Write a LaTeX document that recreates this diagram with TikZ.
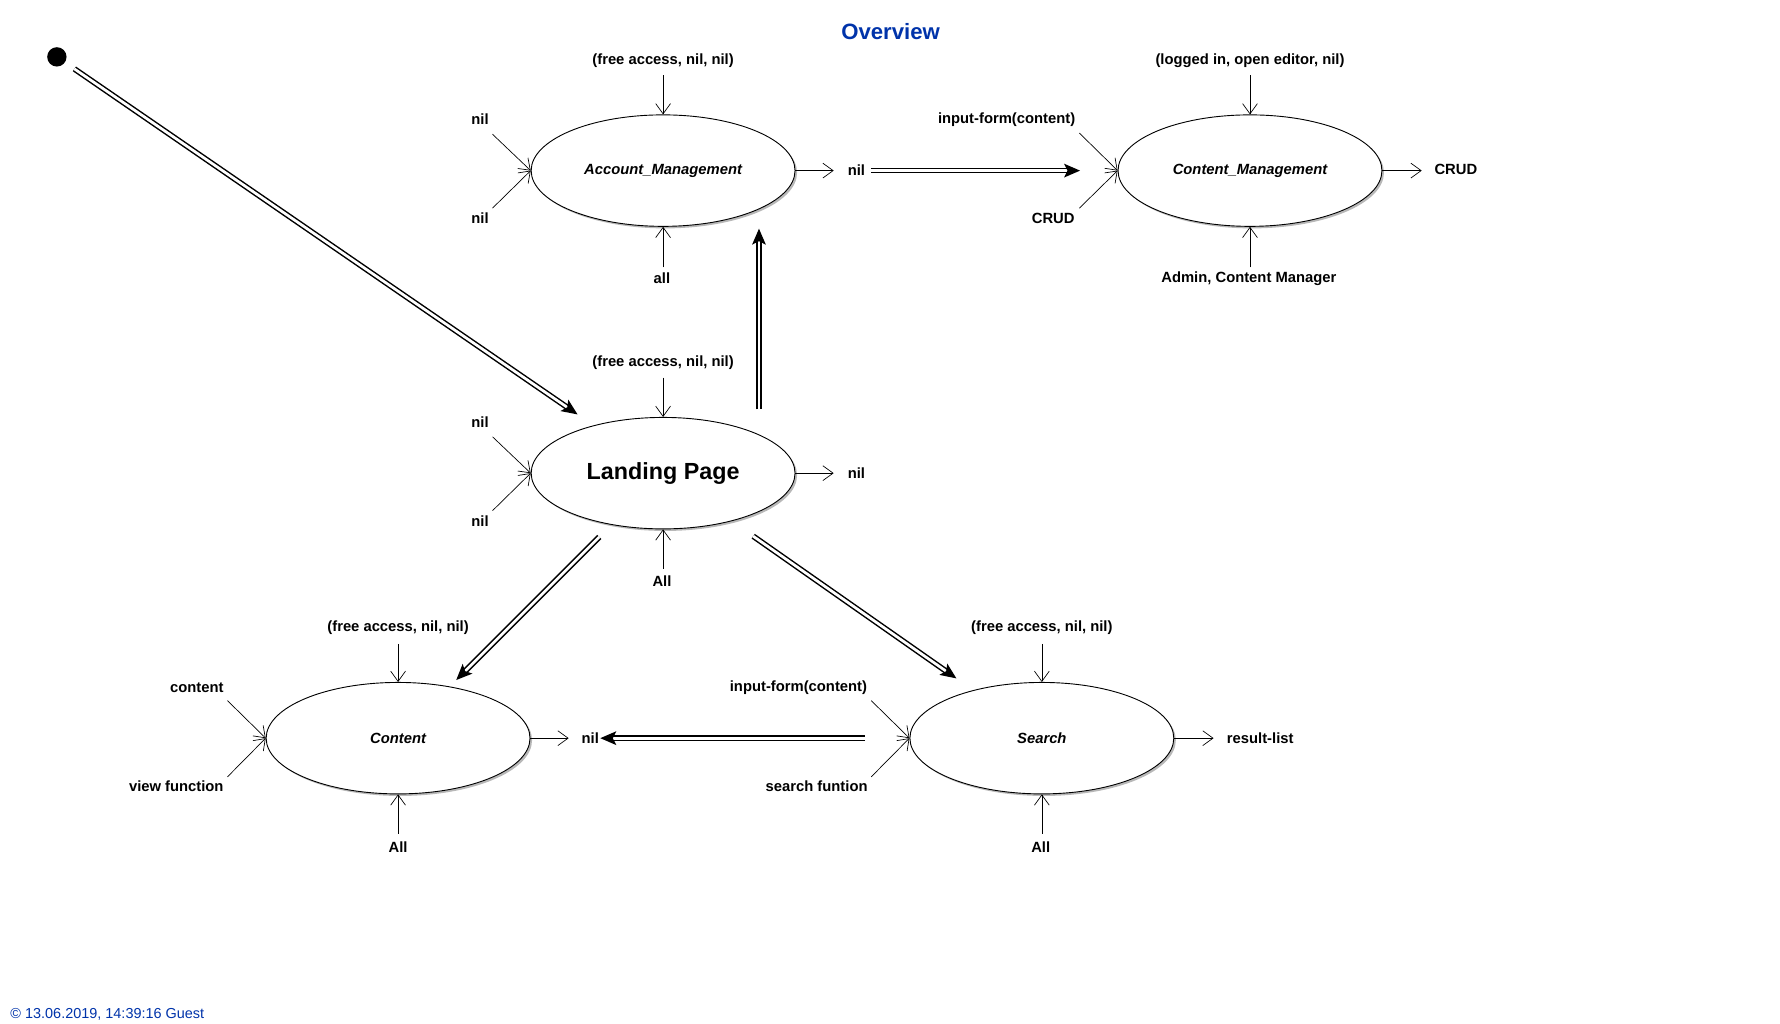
\documentclass[tikz,border=0pt]{standalone}
\usepackage{fontspec}
\setmainfont{Liberation Sans}
\usetikzlibrary{shapes.geometric,arrows.meta,shadows}
\definecolor{titleblue}{RGB}{0,51,170}
\begin{document}
\begin{tikzpicture}[x=1pt,y=-1pt,
  statebox/.style={ellipse,draw,line width=0.8pt,fill=white,minimum width=232pt,minimum height=98pt,inner sep=0pt,
    drop shadow={shadow xshift=1.8pt,shadow yshift=-1.8pt,opacity=0.28,fill=black}},
  lbl/.style={font=\fontsize{13}{15}\selectfont\bfseries,inner sep=1pt},
  stname/.style={font=\fontsize{13}{15}\selectfont\bfseries\itshape},
  stub/.style={line width=0.6pt,-{Straight Barb[length=9pt,width=13pt]}},
  trans/.style={double,double distance=2.4pt,line width=1.3pt,-{Stealth[length=14pt,width=12pt,inset=3pt]}},
]
\useasboundingbox (0,0) rectangle (1565,900);

% title and footer
\node[font=\fontsize{19.5}{22}\selectfont\bfseries,text=titleblue] (title) at (783,28) {Overview};
\node[font=\fontsize{12.7}{14}\selectfont,text=titleblue,anchor=west,inner sep=0pt] (footer) at (9,892) {© 13.06.2019, 14:39:16 Guest};

% initial state
\node[circle,fill=black,minimum size=17pt,inner sep=0pt] (init) at (50,50) {};

% states
\node[statebox] (acc) at (583,150) {};
\node[stname] at (acc) {Account\_Management};
\node[statebox] (cm) at (1099,150) {};
\node[stname] at (cm) {Content\_Management};
\node[statebox] (lp) at (583,416) {};
\node[font=\fontsize{20.5}{24}\selectfont\bfseries] at (lp) {Landing Page};
\node[statebox] (ct) at (350,649) {};
\node[stname] at (ct) {Content};
\node[statebox] (se) at (916,649) {};
\node[stname] at (se) {Search};

% ---------- Account_Management stubs
\node[lbl] (accTl) at (583,53) {(free access, nil, nil)};
\coordinate (accT) at (583,66);
\draw[stub] (accT) -- (acc.north);
\node[lbl] (accL1l) at (422,105) {nil};
\coordinate (accL1) at (433,118);
\draw[stub] (accL1) -- (acc.west);
\node[lbl] (accL2l) at (422,192) {nil};
\coordinate (accL2) at (433,183);
\draw[stub] (accL2) -- (acc.west);
\node[lbl] (accBl) at (582,245) {all};
\coordinate (accB) at (583,235);
\draw[stub] (accB) -- (acc.south);
\coordinate (accR) at (733,150);
\draw[stub] (acc.east) -- (accR);
\node[lbl] (accRl) at (753,150) {nil};

% ---------- Content_Management stubs
\node[lbl] (cmTl) at (1099,53) {(logged in, open editor, nil)};
\coordinate (cmT) at (1099,66);
\draw[stub] (cmT) -- (cm.north);
\node[lbl] (cmL1l) at (885,105) {input-form(content)};
\coordinate (cmL1) at (949,117);
\draw[stub] (cmL1) -- (cm.west);
\node[lbl] (cmL2l) at (926,192) {CRUD};
\coordinate (cmL2) at (949,183);
\draw[stub] (cmL2) -- (cm.west);
\node[lbl] (cmBl) at (1098,245) {Admin, Content Manager};
\coordinate (cmB) at (1099,235);
\draw[stub] (cmB) -- (cm.south);
\coordinate (cmR) at (1250,150);
\draw[stub] (cm.east) -- (cmR);
\node[lbl] (cmRl) at (1280,149) {CRUD};

% ---------- Landing Page stubs
\node[lbl] (lpTl) at (583,319) {(free access, nil, nil)};
\coordinate (lpT) at (583,332);
\draw[stub] (lpT) -- (lp.north);
\node[lbl] (lpL1l) at (422,371) {nil};
\coordinate (lpL1) at (433,384);
\draw[stub] (lpL1) -- (lp.west);
\node[lbl] (lpL2l) at (422,458) {nil};
\coordinate (lpL2) at (433,449);
\draw[stub] (lpL2) -- (lp.west);
\node[lbl] (lpBl) at (582,511) {All};
\coordinate (lpB) at (583,500);
\draw[stub] (lpB) -- (lp.south);
\coordinate (lpR) at (733,416);
\draw[stub] (lp.east) -- (lpR);
\node[lbl] (lpRl) at (753,416) {nil};

% ---------- Content stubs
\node[lbl] (ctTl) at (350,552) {(free access, nil, nil)};
\coordinate (ctT) at (350,566);
\draw[stub] (ctT) -- (ct.north);
\node[lbl] (ctL1l) at (173,605) {content};
\coordinate (ctL1) at (200,616);
\draw[stub] (ctL1) -- (ct.west);
\node[lbl] (ctL2l) at (155,691) {view function};
\coordinate (ctL2) at (200,683);
\draw[stub] (ctL2) -- (ct.west);
\node[lbl] (ctBl) at (350,745) {All};
\coordinate (ctB) at (350,733);
\draw[stub] (ctB) -- (ct.south);
\coordinate (ctR) at (500,649);
\draw[stub] (ct.east) -- (ctR);
\node[lbl] (ctRl) at (519,649) {nil};

% ---------- Search stubs
\node[lbl] (seTl) at (916,552) {(free access, nil, nil)};
\coordinate (seT) at (916,566);
\draw[stub] (seT) -- (se.north);
\node[lbl] (seL1l) at (702,605) {input-form(content)};
\coordinate (seL1) at (766,616);
\draw[stub] (seL1) -- (se.west);
\node[lbl] (seL2l) at (718,691) {search funtion};
\coordinate (seL2) at (766,683);
\draw[stub] (seL2) -- (se.west);
\node[lbl] (seBl) at (915,745) {All};
\coordinate (seB) at (916,733);
\draw[stub] (seB) -- (se.south);
\coordinate (seR) at (1067,649);
\draw[stub] (se.east) -- (seR);
\node[lbl] (seRl) at (1108,649) {result-list};

% ---------- transitions (double arrows)
\draw[trans,shorten <=10pt,shorten >=17pt] (init) -- (lp);
\draw[trans,shorten <=22pt,shorten >=17pt] (lp.22.4) -- (acc.-22.4);
\draw[trans,shorten <=4pt,shorten >=33pt] (accRl.east) -- (cm.west);
\draw[trans,shorten <=15pt,shorten >=8pt] (lp) -- (ct);
\draw[trans,shorten <=23pt,shorten >=18pt] (lp) -- (se);
\draw[trans,shorten <=39pt] (se.west) -- (ctRl.east);
\end{tikzpicture}
\end{document}
